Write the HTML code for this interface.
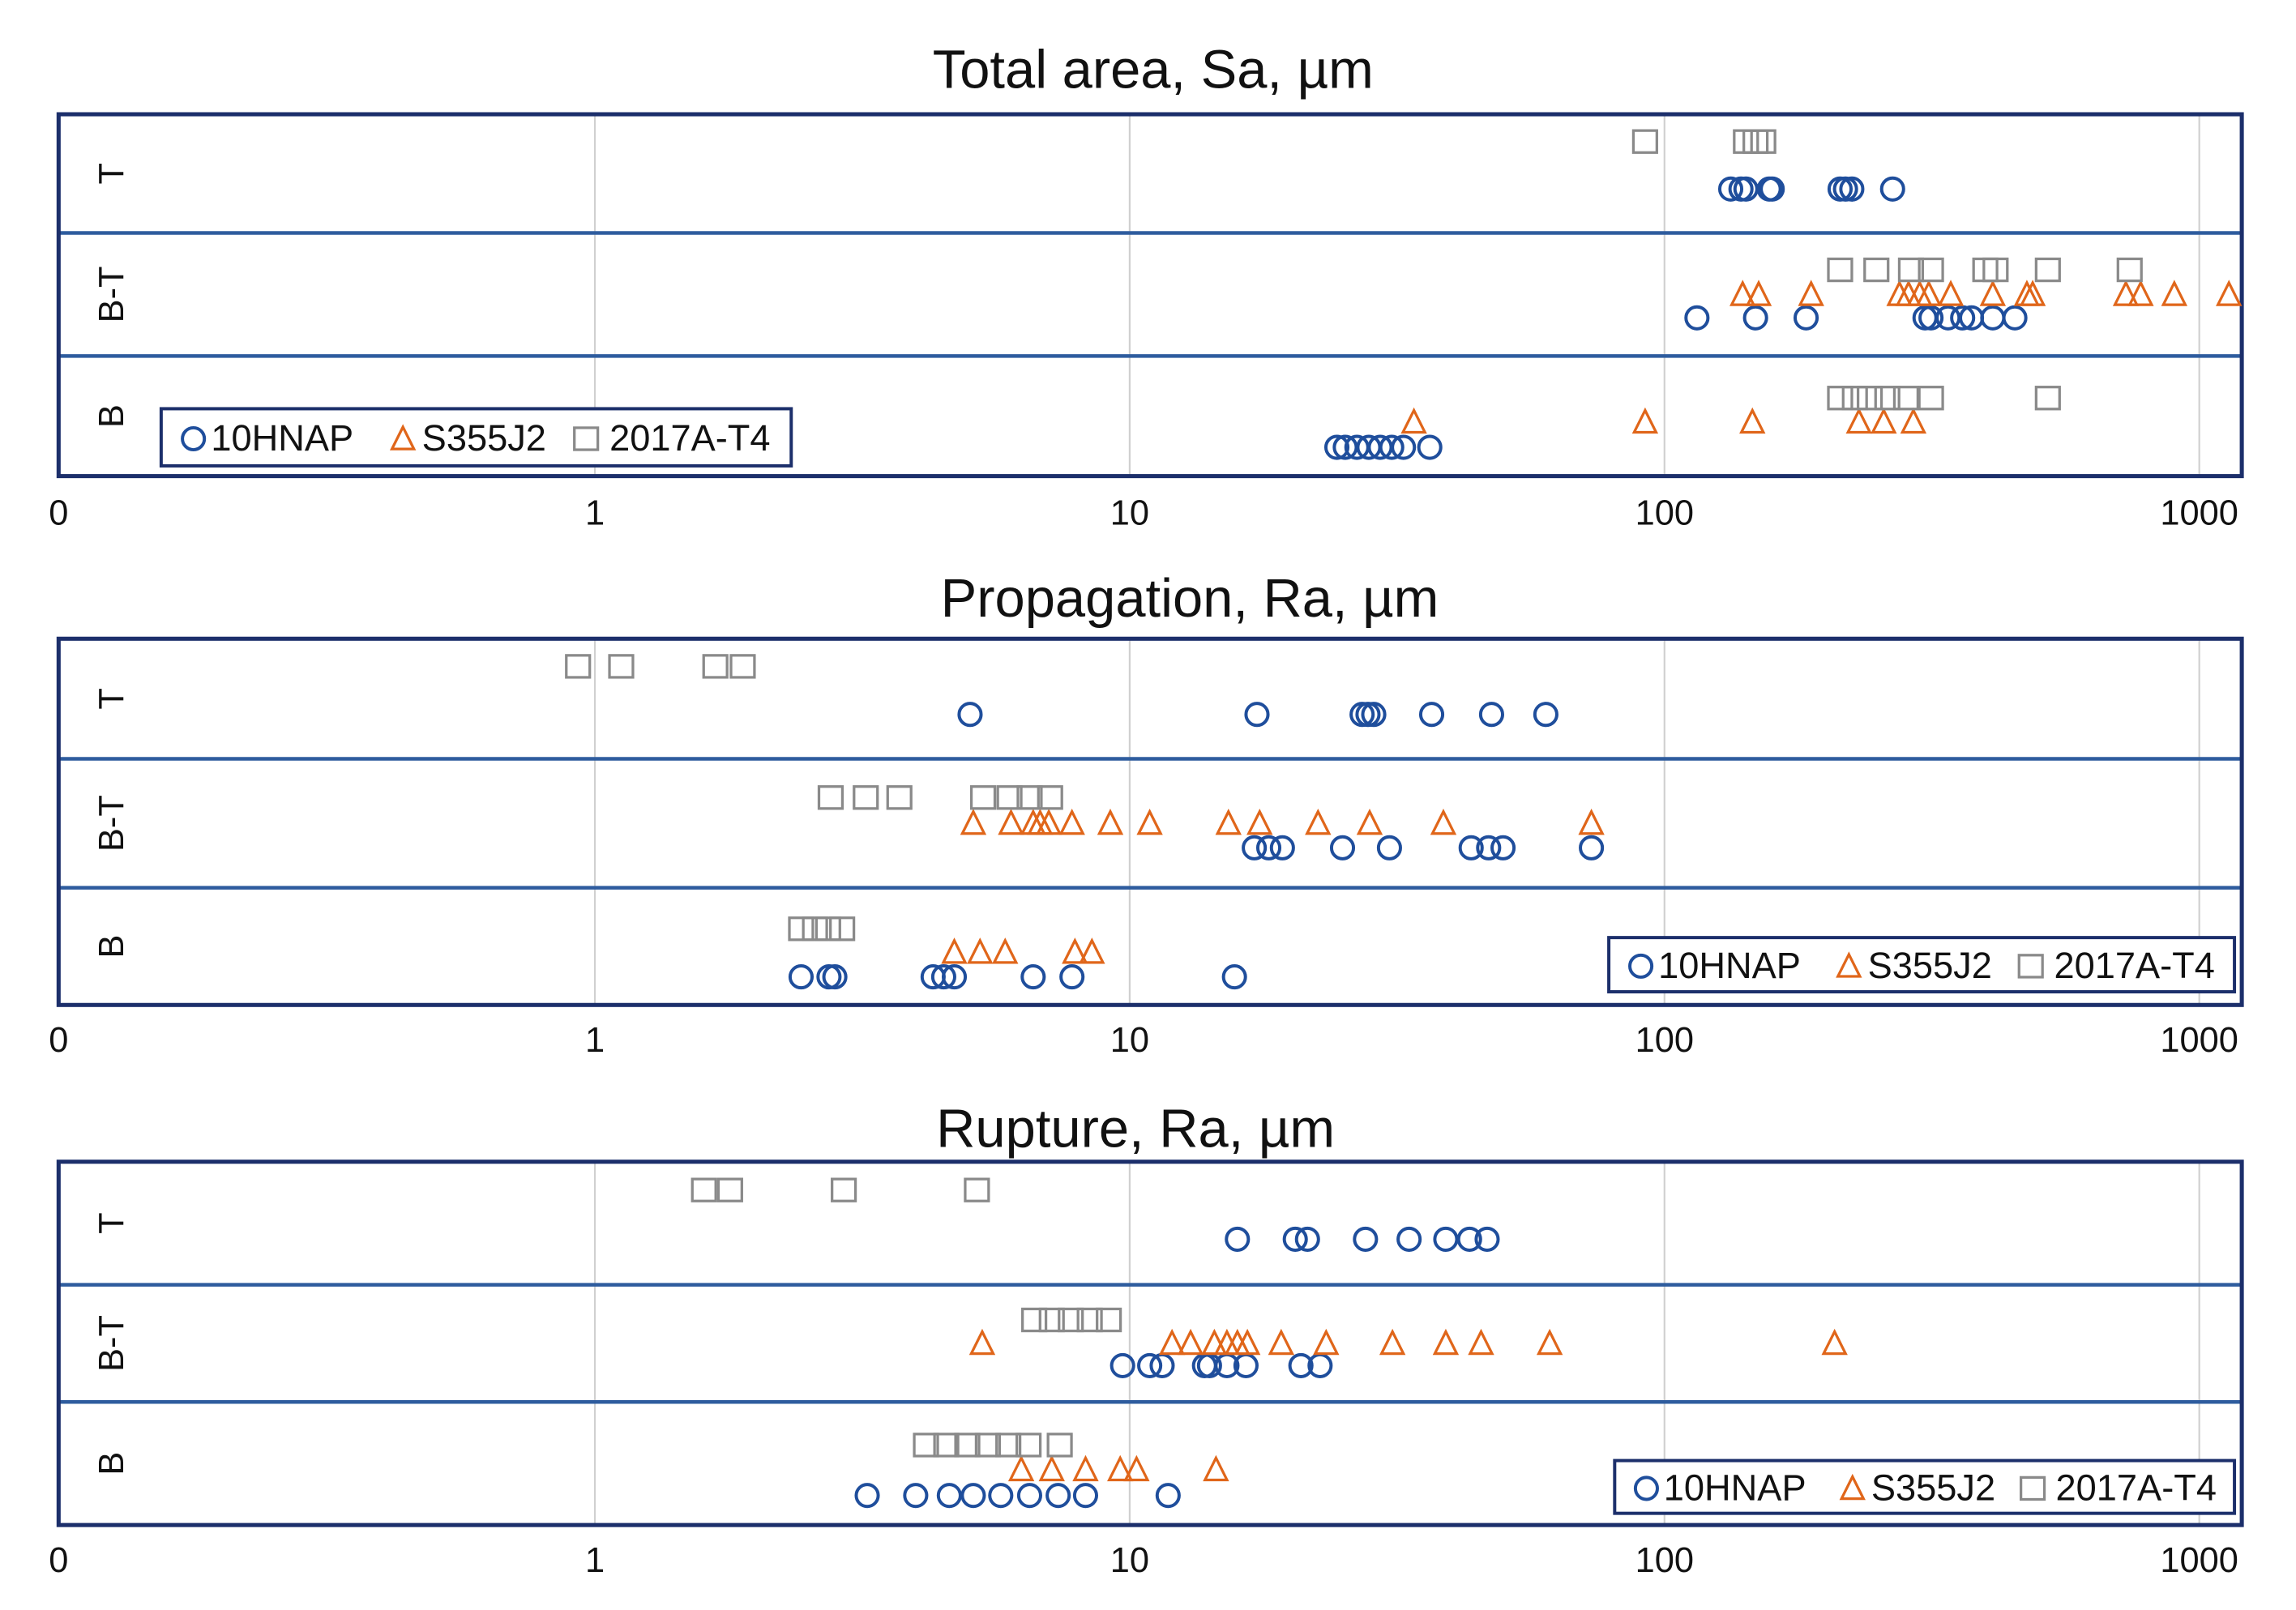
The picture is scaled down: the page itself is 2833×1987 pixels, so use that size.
<!DOCTYPE html>
<html><head><meta charset="utf-8"><style>
html,body{margin:0;padding:0;background:#fff;}
svg{display:block;font-family:"Liberation Sans","DejaVu Sans",sans-serif;}
</style></head><body>
<svg id="chart" width="2833" height="1987" viewBox="0 0 1567 1099" preserveAspectRatio="none" xmlns="http://www.w3.org/2000/svg"></svg>
<script>
// ---- data (values in µm) ----
const rows = ["T","B-T","B"];
const ticks = [0,1,10,100,1000];
const tickLabels = ["0","1","10","100","1000"];
const titles = ["Total area, Sa, µm","Propagation, Ra, µm","Rupture, Ra, µm"];
const seriesNames = ["10HNAP","S355J2","2017A-T4"];

// Chart 1 - Total area
const c1_T_10HNAP = [133,139,142,157,159,213,218,224,267];
const c1_T_S355J2 = [];
const c1_T_2017A = [92,142,148,153];
const c1_BT_10HNAP = [115,148,184,307,315,339,361,375,411,452];
const c1_BT_S355J2 = [140,150,188,275,286,300,312,343,411,476,488,729,777,898,1136];
const c1_BT_2017A = [213,249,289,315,398,416,521,741];
const c1_B_10HNAP = [24.4,25.3,26.6,28,29.4,30.9,32.5,36.4];
const c1_B_S355J2 = [34,92,146,231,257,292];
const c1_B_2017A = [213,227,242,261,283,315,521];

// Chart 2 - Propagation
const c2_T_10HNAP = [5.03,17.3,27.2,27.9,28.6,36.7,47.5,60];
const c2_T_S355J2 = [];
const c2_T_2017A = [0.93,1.12,1.68,1.89];
const c2_BT_10HNAP = [17.1,18.2,19.3,25,30.6,43.5,46.9,49.9,73];
const c2_BT_S355J2 = [5.1,6.0,6.6,6.8,7.06,7.8,9.2,10.9,15.3,17.5,22.5,28.1,38.6,73];
const c2_BT_2017A = [2.76,3.21,3.71,5.32,5.96,6.5,7.1];
const c2_B_10HNAP = [2.43,2.74,2.81,4.29,4.49,4.7,6.6,7.8,15.7];
const c2_B_S355J2 = [4.7,5.25,5.85,7.9,8.5];
const c2_B_2017A = [2.43,2.58,2.73,2.9];

// Chart 3 - Rupture
const c3_T_10HNAP = [15.9,20.4,21.5,27.6,33.3,39.0,43.2,46.6];
const c3_T_S355J2 = [];
const c3_T_2017A = [1.6,1.79,2.92,5.18];
const c3_BT_10HNAP = [9.7,10.9,11.5,13.8,14.1,15.2,16.5,20.9,22.7];
const c3_BT_S355J2 = [5.3,12.0,13.0,14.4,15.2,15.9,16.6,19.2,23.3,31,39,45.4,61,208];
const c3_BT_2017A = [6.63,7.15,7.76,8.42,9.14];
const c3_B_10HNAP = [3.23,3.98,4.6,5.1,5.74,6.5,7.35,8.27,11.8];
const c3_B_S355J2 = [6.27,7.15,8.27,9.6,10.3,14.5];
const c3_B_2017A = [4.16,4.54,4.97,5.43,5.93,6.47,7.4];

const NS="http://www.w3.org/2000/svg";
const svg=document.getElementById('chart');
function mk(tag,attrs,parent){const e=document.createElementNS(NS,tag);for(const k in attrs)e.setAttribute(k,attrs[k]);(parent||svg).appendChild(e);return e;}
const X0=40,X1=1530,DEC=365,XONE=406;
function xs(v){ if(v<=0) return X0; return XONE+DEC*Math.log10(v); }

const BLUE="#1f4e9c",ORANGE="#e0661a",GRAY="#8a8a8a",FRAME="#1c2f6b";
function marker(type,x,y,g){
  let e;
  if(type===0){e=mk('circle',{cx:x,cy:y,r:7.5,fill:'none',stroke:BLUE,'stroke-width':2.2},g);}
  else if(type===1){e=mk('polygon',{points:`${x},${y-8} ${x-7.5},${y+7} ${x+7.5},${y+7}`,fill:'none',stroke:ORANGE,'stroke-width':1.8},g);}
  else {e=mk('rect',{x:x-8,y:y-7.5,width:16,height:15,fill:'none',stroke:GRAY,'stroke-width':1.8},g);}
  return e;
}
// vertical position fractions per row: [circle, triangle, square]
const rowFrac=[[0.63,0.45,0.23],[0.69,0.5,0.3],[0.76,0.55,0.35]];

const charts=[
 {top:78,bot:325,seps:[159,243],titleY:60,titleX:787,tickY:358,legend:{x:110,y:279,w:430,h:39},
  data:[[c1_T_10HNAP,c1_T_S355J2,c1_T_2017A],[c1_BT_10HNAP,c1_BT_S355J2,c1_BT_2017A],[c1_B_10HNAP,c1_B_S355J2,c1_B_2017A]]},
 {top:436,bot:686,seps:[518,606],titleY:421,titleX:812,tickY:718,legend:{x:1098,y:640,w:427,h:37},
  data:[[c2_T_10HNAP,c2_T_S355J2,c2_T_2017A],[c2_BT_10HNAP,c2_BT_S355J2,c2_BT_2017A],[c2_B_10HNAP,c2_B_S355J2,c2_B_2017A]]},
 {top:793,bot:1041,seps:[877,957],titleY:783,titleX:775,tickY:1073,legend:{x:1102,y:997,w:423,h:36},
  data:[[c3_T_10HNAP,c3_T_S355J2,c3_T_2017A],[c3_BT_10HNAP,c3_BT_S355J2,c3_BT_2017A],[c3_B_10HNAP,c3_B_S355J2,c3_B_2017A]]}
];

charts.forEach((c,ci)=>{
  const g=mk('g',{});
  
  
  const t=mk('text',{x:c.titleX,y:c.titleY,'text-anchor':'middle','font-size':37,fill:'#111'},g);
  
  
  t.textContent=titles[ci];
  ticks.forEach((v,i)=>{
    if(v>0){const l=mk('line',{x1:xs(v),x2:xs(v),y1:c.top,y2:c.bot,stroke:'#d0d0d0','stroke-width':1.2},g);
      
      }
    const tl=mk('text',{x:xs(v),y:c.tickY,'text-anchor':'middle','font-size':24,fill:'#111'},g);
    
    
    tl.textContent=tickLabels[i];
  });
  c.seps.forEach(sy=>{
    const l=mk('line',{x1:X0,x2:X1,y1:sy,y2:sy,stroke:'#2e5c9e','stroke-width':2.5},g);
    
    
  });
  const fr=mk('rect',{x:X0,y:c.top,width:X1-X0,height:c.bot-c.top,fill:'none',stroke:FRAME,'stroke-width':2.8},g);
  
  
  const bounds=[c.top,c.seps[0],c.seps[1],c.bot];
  rows.forEach((r,ri)=>{
    const rt=bounds[ri],rb=bounds[ri+1],h=rb-rt;
    const cy=(rt+rb)/2;
    const lab=mk('text',{x:0,y:0,'text-anchor':'middle','font-size':24,fill:'#111',transform:`translate(84,${cy}) rotate(-90)`},g);
    
    
    lab.textContent=r;
    const ys=rowFrac[ri].map(f=>rt+h*f);
    c.data[ri].forEach((arr,si)=>{
      arr.forEach(v=>{
        const m=marker(si,xs(v),ys[si],g);
        
        
      });
    });
  });
  const L=c.legend;
  const lg=mk('g',{},g);
  
  
  mk('rect',{x:L.x,y:L.y,width:L.w,height:L.h,fill:'#fff',stroke:FRAME,'stroke-width':2.2},lg);
  const ly=L.y+L.h/2;
  const sc=L.w/430;
  const offs=[[22,34],[165,178],[290,306]];
  seriesNames.forEach((n,si)=>{
    marker(si,L.x+offs[si][0]*sc,ly+1,lg);
    const tx=mk('text',{x:L.x+offs[si][1]*sc,y:ly+9,'font-size':25,fill:'#111'},lg);
    
    
    tx.textContent=n;
  });
});
</script>
</body></html>
